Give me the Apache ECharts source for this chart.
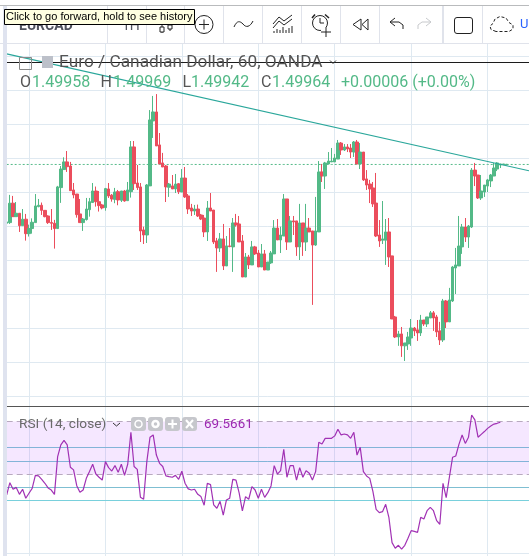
<!DOCTYPE html>
<html><head><meta charset="utf-8">
<style>html,body{margin:0;padding:0;background:#fff}#c{width:529px;height:556px}</style>
<script src="https://cdn.jsdelivr.net/npm/echarts@6/dist/echarts.min.js"></script>
</head><body><div id="c"></div>
<script>
// Prices in 1e-5 CAD (149964 = 1.49964), hourly bars
const open=[149616,149620,149734,149655,149675,149602,149640,149555,149585,149620,
149714,149722,149692,149659,149620,149616,149585,149826,149932,149977,
149953,149812,149788,149671,149620,149638,149696,149738,149806,149743,
149724,149708,149818,149781,149757,149802,149751,149806,149749,149802,
150065,149853,149830,149577,149547,149836,150218,150271,150077,149971,
149953,149828,149836,149818,
149849,149800,149882,149777,149706,149688,149700,149665,149647,149565,
149706,149694,149512,149471,149524,149365,149483,149477,149618,149612,
149512,149300,149418,149371,149477,149441,149359,149436,149341,149383,
149436,149588,149518,149541,149759,149506,149630,149630,149477,149618,
149506,149588,149571,149488,149565,149918,149894,149965,149977,149977,
149994,150088,150047,150065,150059,150035,
150094,149965,150035,149877,149847,149824,149735,149547,149516,149516,
149565,149424,149065,148947,148965,148895,148906,148941,149000,148989,
148971,149047,149024,149059,149089,149065,148983,148930,149159,149036,
149159,149353,149365,149477,149594,149535,149594,149929,149900,149765,
149800,149835,149865,149894,149935,149959,149961,149959];
const close=[149624,149734,149655,149675,149602,149640,149555,149585,149622,149718,
149722,149692,149655,149620,149616,149585,149830,149935,149977,149949,
149808,149783,149667,149620,149641,149700,149743,149806,149743,149720,
149706,149820,149777,149759,149800,149753,149806,149747,149812,150065,
149849,149826,149571,149547,149841,150224,150271,150071,149965,149947,
149830,149847,149818,149847,
149802,149882,149771,149700,149688,149700,149659,149641,149565,149706,
149688,149506,149471,149524,149365,149483,149479,149618,149606,149506,
149300,149418,149371,149477,149436,149359,149436,149341,149388,149441,
149588,149518,149547,149759,149506,149630,149624,149477,149618,149506,
149588,149565,149488,149571,149918,149894,149971,149982,149982,150000,
150088,150047,150065,150053,150035,150094,
149965,150035,149871,149841,149818,149730,149541,149512,149524,149565,
149418,149053,148947,148965,148895,148912,148947,149000,148983,148971,
149047,149024,149065,149089,149059,148977,148930,149159,149036,149165,
149359,149371,149482,149594,149535,149600,149929,149894,149765,149806,
149841,149871,149900,149941,149971,149965,149965,149963];
const low=[149553,149612,149655,149655,149565,149602,149514,149538,149555,149620,
149710,149665,149651,149612,149577,149467,149585,149736,149932,149918,
149808,149763,149649,149620,149571,149632,149655,149738,149714,149685,
149698,149690,149765,149743,149734,149722,149741,149743,149749,149767,
149812,149812,149506,149494,149500,149836,150118,150071,149965,149947,
149741,149771,149818,149794,
149788,149800,149765,149671,149659,149665,149653,149635,149535,149512,
149688,149494,149330,149447,149341,149365,149475,149330,149596,149506,
149300,149300,149347,149371,149430,149359,149359,149341,149341,149377,
149436,149518,149441,149541,149459,149506,149547,149424,149400,149424,
149453,149565,149136,149483,149565,149859,149818,149965,149977,149977,
149994,150018,150041,150035,150000,150006,
149965,149935,149865,149812,149735,149712,149535,149477,149494,149371,
149359,149053,148941,148895,148830,148806,148871,148895,148953,148924,
148953,149012,149006,149059,148983,148947,148900,148918,149000,149036,
149153,149200,149365,149436,149506,149471,149588,149835,149759,149753,
149771,149800,149829,149894,149923,149941,149959,149959];
const high=[149624,149783,149777,149741,149675,149700,149671,149608,149645,149788,
149759,149738,149694,149663,149700,149636,149836,149953,150004,150041,
149977,149853,149788,149759,149647,149765,149765,149853,149832,149806,
149730,149824,149853,149788,149824,149812,149806,149812,149859,150100,
150100,149959,149853,149596,149847,150282,150365,150376,150147,150030,
149959,149853,149900,149906,
149853,149935,149947,149788,149730,149724,149726,149671,149665,149747,
149794,149694,149530,149559,149612,149541,149588,149647,149671,149659,
149547,149441,149430,149512,149483,149459,149494,149459,149388,149453,
149635,149641,149596,149788,149759,149659,149659,149630,149730,149618,
149730,149647,149571,149771,149982,149965,149977,150035,150059,150024,
150106,150094,150082,150082,150082,150100,
150106,150088,150035,149929,149871,149859,149912,149635,149747,149641,
149647,149424,149071,148983,149006,148912,148977,149053,149006,149047,
149077,149047,149065,149100,149100,149077,149036,149171,149165,149236,
149365,149471,149659,149612,149647,149606,149941,149971,149900,149900,
149841,149877,149906,149971,149976,149965,149965,149965];
const rsi=[30.9,37.4,33.9,34.9,31.2,33.9,29.1,31.8,34.4,41.3,41.0,39.2,37.1,34.6,33.5,31.2,51.3,57.5,59.9,57.5,
45.6,44.2,35.8,32.3,33.5,39.7,43.3,47.2,42.0,40.3,38.8,48.6,45.4,43.6,46.5,42.9,47.2,41.3,47.2,64.2,
46.0,44.5,29.6,28.6,48.6,61.6,62.8,52.1,47.7,46.0,41.0,40.6,40.3,41.3,39.2,43.5,37.1,34.1,33.5,33.9,
31.2,30.0,25.4,37.1,36.4,25.6,23.8,27.5,20.2,28.2,29.1,39.2,38.8,31.8,22.4,30.0,28.6,35.3,33.5,29.1,
33.9,29.6,32.1,35.7,46.5,42.0,43.8,55.2,40.3,46.5,46.5,38.8,45.4,40.3,43.8,42.4,38.8,43.3,58.9,58.0,
61.0,61.0,61.0,62.3,65.8,62.8,63.3,62.8,61.0,64.2,52.1,56.2,43.3,41.0,39.7,32.6,23.2,21.5,22.0,25.9,
19.0,5.5,2.5,4.1,2.1,4.1,7.8,11.9,11.5,11.0,19.0,18.1,22.5,24.3,22.5,17.2,15.3,37.1,29.5,40.3,
50.9,51.6,57.8,62.8,58.3,61.6,73.4,70.8,61.6,63.1,64.6,66.3,67.6,68.6,69.0,69.5661];
const lastPrice=149962;
const trendStart=150612, trendEnd=149925;
const rsiBandTop=69.95, rsiBandBottom=41.76;
const rsiLevels=[56.12,48.67];
const rsiLowLevels=[34.84,27.93];
const rsiBase=-0.27;
const barCount=165;
const categories=Array.from({length:barCount},(_,i)=>String(i));
const ohlc=[['O','1.49958'],['H','1.49969'],['L','1.49942'],['C','1.49964']];

const UP='#53b987',DOWN='#eb4d5c',GRID='#dfe9f1',TEAL='#2aa79b',PURPLE='#9c27b0';
const candles=open.map((o,i)=>[o,close[i],low[i],high[i]]);
const left=6.69,right=-0.44;
const G=[];
const txt=(x,y,t,size,fill,extra)=>G.push({type:'text',z:100,x,y,silent:true,
  style:Object.assign({text:t,fontSize:size,fontFamily:'Roboto',fill,textVerticalAlign:'middle'},extra||{})});
const rect=(x,y,w,h,fill,extra)=>G.push({type:'rect',z:100,silent:true,shape:Object.assign({x,y,width:w,height:h},extra&&extra.shape||{}),
  style:Object.assign({fill},extra&&extra.style||{})});
const line=(pts,stroke,w,extra)=>G.push({type:'polyline',z:100,silent:true,shape:{points:pts},
  style:Object.assign({stroke,lineWidth:w||1,fill:'none'},extra||{})});
const circ=(cx,cy,r,stroke,w,extra)=>G.push({type:'circle',z:100,silent:true,shape:{cx,cy,r},
  style:Object.assign({stroke,lineWidth:w||1,fill:'none'},extra||{})});

// toolbar
rect(0,43,529,1,'#e0e3eb');
rect(0,5,529,1,'#b9bbbd');
[107,146,184,223,262,301,340,379,482].forEach(x=>rect(x,6,1,37,'#e0e3eb'));
rect(442,6,2,37,'#e0e3eb');
rect(3,6,4,550,'#dfe3ef');
txt(19,26,'EURCAD',14,'#50535e',{fontWeight:'bold'});
txt(122,26,'1H',14,'#50535e');
line([[162,24],[162,33]],'#222',1);rect(160,27,4,5,'#fff',{style:{stroke:'#222',lineWidth:1}});
line([[170,24],[170,31]],'#222',1);rect(168,25,4,4,'#fff',{style:{stroke:'#222',lineWidth:1}});
circ(204,24.5,9,'#222',1);line([[199,24.5],[209,24.5]],'#222',1);line([[204,19.5],[204,29.5]],'#222',1);
G.push({type:'bezierCurve',z:100,silent:true,shape:{x1:234,y1:27,x2:243,y2:24,cpx1:237,cpy1:20,cpx2:240,cpy2:21},style:{stroke:'#222',lineWidth:1,fill:'none'}});
G.push({type:'bezierCurve',z:100,silent:true,shape:{x1:243,y1:24,x2:253,y2:21,cpx1:246,cpy1:28,cpx2:250,cpy2:27},style:{stroke:'#222',lineWidth:1,fill:'none'}});
line([[273,24],[279,17],[284,21],[292,15]],'#222',1);
line([[273,28],[279,21],[284,25],[292,19]],'#222',1);
[274,277,280,283,286,289,292].forEach((x,i)=>line([[x,33],[x,[31,29,30,27,30,28,26][i]]],'#222',1));
circ(320,23,7.5,'#222',1);line([[320,18],[320,23],[324,23]],'#222',1);
line([[312,18],[315,14.5]],'#222',1.5);line([[325,14.5],[329,18]],'#222',1.5);
rect(321,27,10,7,'#fff');line([[321,32],[331,32]],'#222',1);line([[326,27],[326,37]],'#222',1);
line([[361,19],[353,24.5],[361,30],[361,19]],'#222',1);
line([[368,19],[362,24.5],[368,30],[368,19]],'#222',1);
line([[395,18],[390,22],[395,26]],'#222',1);
line([[390,22],[399,22],[403,25],[403,29]],'#222',1);
line([[426,18],[431,22],[426,26]],'#c7c9cc',1);
line([[431,22],[422,22],[418,25],[418,29]],'#c7c9cc',1);
rect(454.5,17.5,18,16,'none',{shape:{r:2.5},style:{stroke:'#222',lineWidth:1}});
line([[496,31.5],[491,29.5],[490,26],[493,23.5],[495,19],[500,16.5],[506,18],[509,22.5],[513,25],[513,29],[509,31.5],[496,31.5]],'#222',1,{lineDash:[3,2]});
txt(520,25,'U',13,'#2962ff');

// dark rule over the legend and the pane separator
rect(7,62,522,1,'#1c1c1c');
rect(7,406,522,1,'#555');

// legend
rect(19.5,57.5,12,12,'none',{style:{stroke:'#888',lineWidth:1}});
rect(42,56,11,12,'#bcc0c9');
txt(59,63,'Euro / Canadian Dollar, 60, OANDA',17.3,'#555');
line([[330,60.5],[333,63.5],[336,60.5]],'#333',1);
const lx=[20,100.5,182.5,261],vx=[32,113,191,272];
ohlc.forEach((o,i)=>{txt(lx[i],83,o[0],16,'#555');txt(vx[i],83,o[1],16,UP);});
txt(341,83,'+0.00006 (+0.00%)',16,UP);

// RSI legend
txt(19,425,'RSI (14, close)',13.7,'#6a6a6a');
line([[113,423],[116.5,426],[120,423]],'#333',1);
[131,148,165,182].forEach(x=>rect(x,417,15,14,'#c6c7cc',{shape:{r:3}}));
circ(138.5,424,3.5,'#fff',1.5);
circ(155.5,424,3,'#fff',2.5);
line([[168,424],[177,424]],'#fff',2);line([[172.5,419.5],[172.5,428.5]],'#fff',2);
line([[186,420],[193,428]],'#fff',2);line([[193,420],[186,428]],'#fff',2);
txt(204,425,'69.5661',13.4,PURPLE);

// tooltip
rect(4.5,9.5,190,15,'#ffffe1',{style:{stroke:'#000',lineWidth:1}});
txt(6,17,'Click to go forward, hold to see history',11,'#000',{fontFamily:'Liberation Sans'});

const chart=echarts.init(document.getElementById('c'),null,{renderer:'canvas'});
chart.setOption({
  animation:false,
  graphic:{elements:G},
  grid:[
    {left,right,top:56,bottom:556-396},
    {left,right,top:406,bottom:0},
    {left,right,top:43,bottom:0}
  ],
  xAxis:[
    {type:'category',gridIndex:0,data:categories,boundaryGap:false,show:false},
    {type:'category',gridIndex:1,data:categories,boundaryGap:false,show:false},
    {type:'category',gridIndex:2,data:categories,boundaryGap:false,axisLine:{show:false},axisTick:{show:false},axisLabel:{show:false},
      splitLine:{show:true,interval:(i)=>i%24===7,lineStyle:{color:GRID,width:1}}}
  ],
  yAxis:[
    {type:'value',gridIndex:0,scale:true,min:148600,max:150600,interval:200,position:'right',
      axisLine:{show:false},axisTick:{show:false},axisLabel:{show:false},
      splitLine:{show:true,lineStyle:{color:GRID,width:1}}},
    {type:'value',gridIndex:1,min:-1.6,max:78.2,axisLine:{show:false},axisTick:{show:false},axisLabel:{show:false},splitLine:{show:false}},
    {type:'value',gridIndex:2,min:0,max:1,show:false,splitLine:{show:false}}
  ],
  series:[
    {type:'candlestick',name:'EURCAD',xAxisIndex:0,yAxisIndex:0,data:candles,barWidth:3,clip:true,
      itemStyle:{color:UP,color0:DOWN,borderColor:UP,borderColor0:DOWN,borderWidth:1},silent:true,z:3},
    {type:'line',name:'last',xAxisIndex:0,yAxisIndex:0,showSymbol:false,silent:true,z:2,
      data:categories.map(c=>[c,lastPrice]),lineStyle:{color:UP,width:1,type:[2,2]}},
    {type:'line',name:'trend',xAxisIndex:0,yAxisIndex:0,showSymbol:false,silent:true,clip:false,z:4,
      data:[[0,trendStart],[barCount-1,trendEnd]],lineStyle:{color:TEAL,width:1.2}},
    {type:'line',name:'band',xAxisIndex:1,yAxisIndex:1,data:[],silent:true,z:1,
      markArea:{silent:true,itemStyle:{color:'#9915ff',opacity:0.1},data:[[{yAxis:rsiBandTop},{yAxis:rsiBandBottom}]]}},
    {type:'line',name:'RSI',xAxisIndex:1,yAxisIndex:1,data:rsi,showSymbol:false,silent:true,z:5,
      lineStyle:{color:PURPLE,width:1.2,opacity:0.95},
      markLine:{silent:true,symbol:'none',label:{show:false},animation:false,data:[
        {yAxis:rsiBandTop,lineStyle:{color:'#b8a9bf',type:[6,4],width:1}},
        {yAxis:rsiBandBottom,lineStyle:{color:'#b8a9bf',type:[6,4],width:1}},
        ...rsiLevels.map(v=>({yAxis:v,lineStyle:{color:'#83b4d8',type:'solid',width:1}})),
        {yAxis:rsiLowLevels[0],lineStyle:{color:'#7fbfd2',type:'solid',width:1}},
        {yAxis:rsiLowLevels[1],lineStyle:{color:'#79d0dc',type:'solid',width:1}},
        {yAxis:rsiBase,lineStyle:{color:GRID,type:'solid',width:1}}
      ]}}
  ]
});
</script></body></html>
